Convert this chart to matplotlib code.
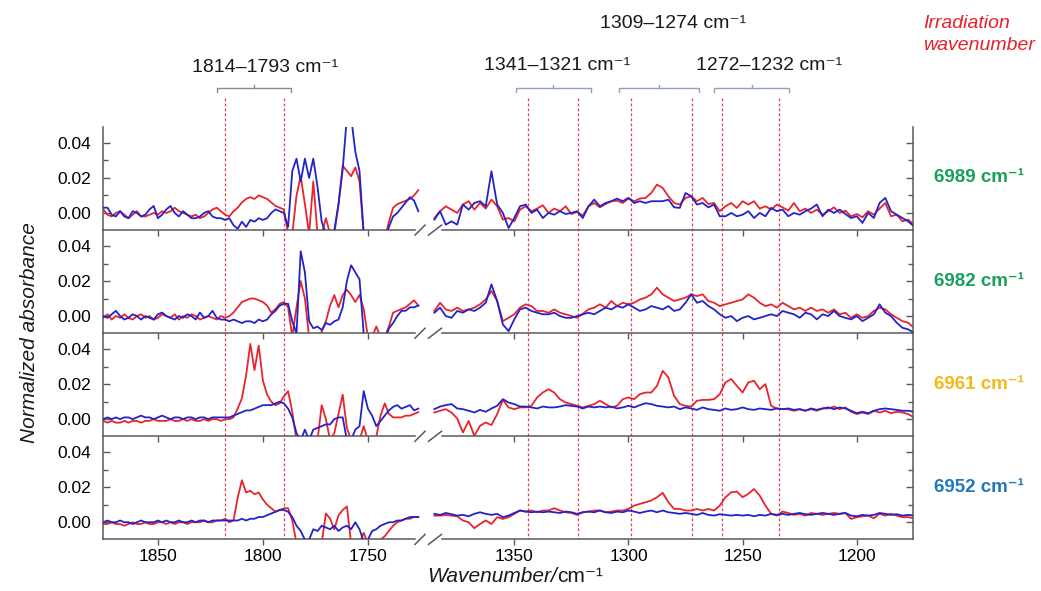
import numpy as np
import matplotlib
matplotlib.use("Agg")
import matplotlib.pyplot as plt
from matplotlib.transforms import blended_transform_factory
from matplotlib.lines import Line2D

plt.rcParams['font.family'] = ['Liberation Sans', 'DejaVu Sans']

# ---------------- data (absorbance in units of 1e-3) ----------------
SCALE = 1e-3
wn_left = np.arange(1876, 1725, -2)        # 1876 ... 1726 (76 points)
wn_right = np.arange(1385, 1174, -2.5)     # 1385 ... 1175 (85 points)

p1_red_left = [2, -1, -2, 0, 1, -1, -3, -1, 1, -2, -2, -1, 0, -1, 1, 0, 1, 3, 1, 0, -1, -2, -1, -3, -2, 0, 2, 3, 1,
               -1, -2, 1, 3, 6, 8, 9, 8, 10, 9, 8, 6, 4, 3, 2, -12, -12, 10, 21, 5, -12, 18, -12, -12, -3, -12, -12,
               5, 27, 24, 21, 26, 18, -12, -15, -15, -15, -15, -15, -5, 3, 5, 6, 7, 8, 10, 13]
p1_blue_left = [3, 3, -1, -2, 1, -2, -3, 1, 0, -2, -1, 2, 4, -3, -1, 2, 4, 0, -2, 1, -1, -3, -3, -2, 0, 1, -2, -3, -3,
                -4, -3, -7, -9, -5, -8, -4, -5, -3, -4, -3, 0, 2, 1, 0, -8, 24, 31, 18, 31, 20, 31, 15, -5, -12, -12,
                -10, 5, 25, 55, 55, 35, 24, -12, -15, -15, -15, -15, -15, -8, -2, 0, 3, 6, 9, 7, 1]
p2_red_left = [-1, 1, -2, 0, -1, 1, -1, -2, 0, 1, -1, 0, -2, -1, 1, 0, -1, 1, -2, 0, -1, 1, 0, -2, -1, 0, -1, -2, 0,
               -1, 0, 2, 5, 8, 9, 10, 10, 9, 8, 6, 2, 4, 7, 8, 5, -12, 5, 20, 10, -12, -12, -12, -9, -3, 6, 12, 5,
               12, 15, 12, 8, 12, 4, -12, -12, -6, -12, -12, -6, 2, 3, 4, 5, 7, 9, 6]
p2_blue_left = [0, -1, 1, 3, 0, -2, -1, 1, 0, -2, 0, -1, -2, 1, 2, 0, -1, -2, 0, -1, 1, 0, -2, 2, -1, 0, 3, -1, -2,
                -2, -3, -2, -3, -4, -3, -3, -4, -2, -3, -2, 1, 3, 6, 7, 7, -3, -10, 37, 25, -3, -7, -6, -8, -4, -5,
                -3, -2, 5, 20, 29, 25, 21, -10, -15, -15, -15, -15, -15, -7, -4, 0, 3, 3, 5, 5, 6]
p3_red_left = [-1, -2, -1, -2, -2, -1, -2, -1, -1, -2, -1, -1, 0, -1, -1, -1, 0, -1, -1, 0, -1, 0, -1, -1, 0, -1, 0,
               0, -1, 0, 0, 1, 6, 12, 25, 43, 28, 42, 22, 14, 10, 8, 9, 13, 16, 4, -12, -12, -12, -12, -12, -12, 8,
               0, -12, -8, 3, 14, -5, -12, -12, -12, -4, -12, -12, -10, 2, 9, 3, 1, 1, 1, 2, 2, 3, 4]
p3_blue_left = [0, 1, 0, 1, 0, 1, 1, 0, 1, 2, 1, 1, 0, 1, 2, 1, 0, 1, 1, 0, 1, 1, 0, 1, 1, 0, 1, 1, 1,
                1, 1, 2, 3, 4, 5, 5, 6, 7, 8, 8, 8, 9, 10, 9, 6, 1, -8, -12, -6, -12, -6, -5, -4, -3, -3, 0, 1, 1,
                -12, -12, -6, -4, 16, 6, 2, -4, -1, 2, 5, 7, 8, 6, 7, 8, 5, 6]
p4_red_left = [-1, -1, 0, -1, -1, -2, -1, 0, -1, -1, 0, -1, -1, 0, 0, -1, 0, -1, 0, 0, -1, 0, 0, 0, 1, 0, 0, 1, 1,
               2, 0, 1, 14, 24, 17, 18, 16, 17, 13, 10, 8, 6, 7, 8, 8, 1, -12, -12, -12, -12, -12, -12, -12, 5, 2,
               -4, 4, 7, 9, -12, -12, -12, -6, -12, -12, -12, -10, -8, -5, -2, 0, 1, 2, 2, 3, 3]
p4_blue_left = [0, 1, 0, 0, 1, 0, 0, -1, 0, 1, 0, 0, 0, 1, 0, 1, 0, 0, 1, 0, 0, 1, 0, 1, 1, 0, 1, 1, 1,
                1, 1, 1, 1, 2, 1, 2, 2, 3, 3, 4, 5, 6, 7, 7, 6, 3, -2, -5, -10, -10, -4, -5, -2, -3, -4, -2, -5, -3,
                -2, -4, 0, -4, -11, -10, -5, -4, -2, -1, 0, 0, 1, 1, 2, 3, 3, 3]

p1_red_right = [-2.9, 1.0, 3.8, 1.9, 0.0, 4.8, 6.7, 1.9, 5.7, 2.5, 7.6, 3.8, -3.8, -2.9, -4.8, 1.9, 3.8, 1.0, 2.5, 4.4,
                0.0, 2.5, 1.0, 3.8, -0.6, 0.6, -1.5, 3.8, 5.7, 3.2, 5.1, 6.7, 7.0, 5.7, 8.2, 6.7, 8.2, 8.6, 11.4, 16.2,
                14.3, 9.5, 5.7, 4.8, 8.6, 9.5, 6.7, 8.6, 5.1, 5.7, 1.0, 3.8, 5.7, 2.9, 6.7, 4.8, 6.7, 2.5, 3.8, 1.9,
                4.8, 3.2, 1.3, 5.7, 1.0, 2.5, 0.0, 1.9, -1.0, 1.0, 3.2, 0.0, 1.3, -1.9, -0.6, -2.5, 1.0, -1.0, 2.5, 5.7,
                -1.9, -1.0, -4.8, -3.8, -6.7]
p1_blue_right = [-3.8, 1.0, -6.7, -4.8, -6.7, 4.8, 1.9, 5.7, 6.7, 3.8, 23.8, 4.8, 0.0, -8.6, -2.9, 3.8, 4.8, 0.0, 1.9, -2.9,
                 0.0, -1.0, 1.0, -0.6, 0.0, 1.0, -2.9, 3.8, 7.6, 3.8, 5.7, 6.7, 8.2, 6.7, 8.6, 5.7, 6.7, 5.7, 6.7, 6.7,
                 6.7, 7.6, 3.2, 2.9, 11.4, 9.5, 4.8, 5.7, 3.2, 4.8, -1.9, -1.9, 0.0, -1.9, -1.0, 1.0, -2.9, 0.0, -1.9, 2.9,
                 1.0, 1.9, -1.9, 0.0, -1.0, 1.0, 2.5, 4.8, -1.9, 1.9, 0.0, 1.9, -0.6, -2.9, -1.9, -5.7, 0.0, -2.9, 5.7, 8.6,
                 1.0, -1.0, -2.9, -4.8, -7.6]
p2_red_right = [2.9, 7.6, 3.8, 2.9, 4.8, 2.9, 3.8, 4.8, 6.7, 9.5, 14.3, 8.6, -2.9, -1.0, 1.0, 4.8, 6.7, 5.7, 2.9, 2.9,
                1.9, 3.8, 1.9, 1.0, 0.0, -1.0, 1.3, 3.8, 4.8, 6.7, 4.8, 8.6, 5.7, 7.6, 6.7, 7.6, 9.5, 10.5, 12.4, 16.2,
                12.4, 10.5, 8.6, 9.5, 10.5, 12.4, 11.4, 12.4, 8.6, 7.6, 5.7, 6.7, 7.6, 8.6, 9.5, 12.4, 10.5, 7.6, 5.7, 6.7,
                4.8, 7.6, 5.7, 3.8, 4.8, 2.9, 4.8, 2.9, 3.8, 1.9, 3.8, 1.0, 1.9, -1.0, 1.0, -1.0, 0.0, 2.9, 4.8, 3.8,
                1.0, -1.0, -2.9, -3.8, -6.7]
p2_blue_right = [1.9, 4.8, 0.0, -1.0, 2.9, 1.9, 3.8, 2.9, 4.8, 7.6, 18.1, 8.6, -4.8, -8.6, -1.9, 3.8, 4.8, 2.9, 1.9, 1.0,
                 1.0, 1.9, 0.0, -1.0, -1.0, 0.0, 1.0, 1.9, 1.0, 2.9, 4.8, 3.8, 5.7, 4.8, 6.7, 4.8, 2.9, 3.8, 5.7, 4.8,
                 3.8, 5.7, 2.9, 3.8, 7.6, 12.4, 7.6, 8.6, 5.7, 3.8, 1.0, -1.0, 0.0, -2.9, -1.0, 0.0, -1.9, -1.0, 0.0, 1.0,
                 0.0, 2.9, 1.9, 1.0, -1.0, 1.9, 1.0, -1.9, 1.0, 0.0, 2.9, 0.0, -1.0, -1.9, 0.0, -2.9, -1.0, 1.0, 6.7, 1.9,
                 0.0, -3.8, -6.7, -7.6, -9.5]
p3_red_right = [3.8, 4.8, 5.7, 3.8, 0.4, -7.6, -1.0, -9.5, -3.8, -1.9, -3.4, 2.9, 11.0, 6.7, 5.7, 6.7, 6.7, 7.6, 12.4, 15.2,
                17.1, 15.2, 11.4, 9.5, 8.6, 7.6, 6.7, 7.6, 8.6, 10.5, 8.6, 6.7, 7.6, 11.4, 12.4, 11.4, 14.3, 15.2, 15.2, 19.0,
                27.6, 23.8, 13.3, 8.6, 7.6, 7.2, 10.5, 11.0, 11.0, 11.4, 14.3, 21.0, 22.9, 19.0, 15.2, 21.0, 21.9, 17.1, 20.0, 7.6,
                6.1, 5.7, 5.7, 4.8, 5.7, 4.8, 5.7, 4.8, 6.1, 6.1, 7.2, 5.7, 6.7, 4.2, 2.9, 3.8, 2.9, 4.8, 3.8, 4.8,
                3.4, 4.2, 3.8, 2.9, 1.0]
p3_blue_right = [5.7, 7.2, 8.0, 8.6, 6.1, 5.7, 4.8, 3.8, 5.3, 4.2, 6.1, 7.6, 11.4, 9.5, 8.6, 7.2, 7.2, 6.7, 6.1, 7.2,
                 6.7, 6.7, 7.2, 8.0, 7.6, 7.2, 6.1, 7.2, 6.7, 7.2, 6.7, 7.2, 6.1, 6.7, 7.6, 6.7, 8.0, 9.1, 8.6, 7.6,
                 7.2, 6.7, 7.2, 5.7, 6.7, 6.1, 5.3, 6.7, 5.7, 5.3, 4.8, 6.1, 5.3, 5.7, 6.7, 5.7, 5.3, 6.1, 5.7, 5.3,
                 6.1, 5.7, 6.1, 5.3, 5.7, 4.8, 6.1, 5.3, 6.1, 6.7, 5.7, 6.7, 6.1, 4.8, 3.4, 4.2, 3.4, 4.8, 5.7, 6.1,
                 5.7, 5.3, 4.8, 4.8, 4.2]
p4_red_right = [3.8, 3.8, 4.2, 3.8, 3.4, 1.0, 0.0, -3.4, -1.0, 1.0, -1.0, 2.9, 1.9, 2.9, 4.8, 6.7, 6.1, 6.7, 5.7, 6.7,
                6.7, 8.0, 6.7, 5.7, 5.3, 4.2, 5.7, 6.1, 6.7, 6.7, 5.7, 6.1, 6.7, 6.7, 7.6, 9.5, 10.5, 11.4, 12.4, 14.3,
                16.8, 11.4, 7.6, 7.6, 6.7, 6.7, 7.6, 6.7, 7.6, 6.7, 9.5, 14.3, 17.1, 17.5, 14.3, 16.2, 19.0, 15.2, 9.5, 4.8,
                3.8, 6.1, 5.3, 4.2, 4.8, 3.8, 5.3, 4.8, 4.2, 4.8, 5.3, 4.8, 5.3, 1.9, 2.9, 3.4, 3.8, 2.3, 4.8, 3.8,
                4.8, 3.8, 2.9, 2.9, 2.3]
p4_blue_right = [4.8, 4.2, 5.3, 4.6, 3.8, 4.2, 3.4, 4.8, 5.7, 4.8, 4.2, 4.8, 2.9, 3.8, 5.3, 6.7, 6.1, 5.7, 6.1, 5.7,
                 6.1, 5.7, 5.3, 6.1, 5.7, 4.8, 5.7, 6.1, 5.7, 6.7, 5.7, 5.3, 6.1, 5.7, 6.7, 6.1, 5.3, 6.1, 6.7, 5.7,
                 6.7, 5.7, 5.3, 4.8, 5.3, 4.8, 4.2, 5.3, 4.2, 3.8, 4.6, 4.2, 3.8, 4.2, 3.8, 4.2, 3.4, 4.2, 3.8, 4.8,
                 4.2, 4.8, 4.2, 4.8, 5.3, 4.6, 4.2, 4.8, 5.3, 4.8, 4.2, 4.8, 5.3, 3.8, 3.4, 4.2, 3.8, 4.2, 5.3, 4.8,
                 4.2, 4.6, 3.8, 4.2, 3.8]

red_left = [p1_red_left, p2_red_left, p3_red_left, p4_red_left]
blue_left = [p1_blue_left, p2_blue_left, p3_blue_left, p4_blue_left]
red_right = [p1_red_right, p2_red_right, p3_red_right, p4_red_right]
blue_right = [p1_blue_right, p2_blue_right, p3_blue_right, p4_blue_right]

panel_labels = ['6989 cm⁻¹', '6982 cm⁻¹', '6961 cm⁻¹', '6952 cm⁻¹']
panel_label_colors = ['#17a05a', '#17a05a', '#f4b914', '#1f78bd']
irradiation_lines = [1818, 1790, 1344, 1322, 1299, 1272, 1259, 1234]
bracket_ranges = [(1821.7, 1786.8), (1349.3, 1316.5), (1304.0, 1269.0), (1262.5, 1229.5)]
bracket_labels = ['1814–1793 cm⁻¹', '1341–1321 cm⁻¹', '1309–1274 cm⁻¹', '1272–1232 cm⁻¹']
left_ticks = [1850, 1800, 1750]
right_ticks = [1350, 1300, 1250, 1200]
y_major = [0.0, 0.02, 0.04]
y_minor = [0.01, 0.03]

# ---------------- layout ----------------
W, H = 1041, 591
def fx(px):
    return px / W
def fy(py):
    return 1 - py / H

PANEL_TOP, PANEL_H = 127.0, 103.1
LX0, LX1 = 103.3, 420.4
RX0, RX1 = 433.0, 912.7
LEFT_LIM = (1876, 1725)
RIGHT_LIM = (1385.6, 1175.5)
YLIM = (-0.0098, 0.0491)

RED = '#e8242c'
BLUE = '#2323c8'
AXC = '#5a5a5a'

fig = plt.figure(figsize=(W / 100, H / 100), dpi=100)
fig.patch.set_facecolor('white')

axes_l, axes_r = [], []
for k in range(4):
    top = PANEL_TOP + k * PANEL_H
    bot = top + PANEL_H
    al = fig.add_axes([fx(LX0), fy(bot), (LX1 - LX0) / W, PANEL_H / H])
    ar = fig.add_axes([fx(RX0), fy(bot), (RX1 - RX0) / W, PANEL_H / H])
    for ax, xl, wn, rd, bl, ticks in ((al, LEFT_LIM, wn_left, red_left[k], blue_left[k], left_ticks),
                                      (ar, RIGHT_LIM, wn_right, red_right[k], blue_right[k], right_ticks)):
        ax.patch.set_visible(False)
        ax.plot(wn, np.array(rd) * SCALE, color=RED, lw=1.3, zorder=2)
        ax.plot(wn, np.array(bl) * SCALE, color=BLUE, lw=1.3, zorder=3)
        ax.set_xlim(*xl)
        ax.set_ylim(*YLIM)
        ax.set_xticks(ticks)
        ax.set_yticks(y_major)
        ax.set_yticks(y_minor, minor=True)
        ax.spines['top'].set_visible(False)
        for s in ax.spines.values():
            s.set_color(AXC)
            s.set_linewidth(1.1)
        ax.tick_params(axis='x', direction='out', length=4, width=1, color=AXC,
                       labelbottom=(k == 3), labelsize=12.5, pad=3)
        ax.tick_params(axis='y', which='both', direction='in', color=AXC, width=1)
        ax.tick_params(axis='y', which='major', length=5)
        ax.tick_params(axis='y', which='minor', length=3.5)
    al.spines['right'].set_visible(False)
    al.spines['bottom'].set_bounds(1876, 1727.6)
    al.set_yticklabels(['0.00', '0.02', '0.04'])
    al.tick_params(axis='y', labelsize=12.5, pad=9)
    ar.spines['left'].set_visible(False)
    ar.spines['bottom'].set_bounds(1381.7, 1175.5)
    ar.yaxis.tick_right()
    ar.tick_params(axis='y', which='both', labelright=False)
    axes_l.append(al)
    axes_r.append(ar)

    # break marks on each panel's bottom line
    for (x0, x1) in ((415.0, 425.0), (428.5, 441.5)):
        fig.add_artist(Line2D([fx(x0), fx(x1)], [fy(bot + 5), fy(bot - 5)],
                              transform=fig.transFigure, color=AXC, lw=1.1))

    # panel label on the right, at the 0.02 level
    tr = blended_transform_factory(fig.transFigure, ar.transData)
    fig.text(fx(934), 0.02, panel_labels[k], transform=tr, ha='left', va='center',
             fontsize=13.5, fontweight='bold', color=panel_label_colors[k])

# dashed irradiation lines spanning all panels
for wn in irradiation_lines:
    ax = axes_l[0] if wn > 1500 else axes_r[0]
    tr = blended_transform_factory(ax.transData, fig.transFigure)
    ax.add_line(Line2D([wn, wn], [fy(98), fy(PANEL_TOP + 4 * PANEL_H)], transform=tr,
                       color='#e0404c', lw=0.9, ls=(0, (2.2, 1.8)), clip_on=False, zorder=0.5))

# brackets
for i, (a, b) in enumerate(bracket_ranges):
    ax = axes_l[0] if a > 1500 else axes_r[0]
    tr = blended_transform_factory(ax.transData, fig.transFigure)
    col = '#8a8a8a' if a > 1500 else '#8ea2b8'
    ax.add_line(Line2D([a, a, b, b], [fy(92), fy(88.5), fy(88.5), fy(92)], transform=tr,
                       color=col, lw=1.0, clip_on=False))
    c = (a + b) / 2
    ax.add_line(Line2D([c, c], [fy(88.5), fy(85)], transform=tr, color=col, lw=1.0, clip_on=False))

label_pos = [(265, 68), (557.5, 66), (672.5, 24), (769, 66)]
for lab, (px, py) in zip(bracket_labels, label_pos):
    fig.text(fx(px), fy(py), lab, ha='center', va='center', fontsize=14, color='#1a1a1a')

fig.text(fx(923), fy(23), 'Irradiation', ha='left', va='center', fontsize=14,
         style='italic', color='#e8202a')
fig.text(fx(923), fy(46), 'wavenumber', ha='left', va='center', fontsize=14,
         style='italic', color='#e8202a')

# axis labels
fig.text(fx(30), fy(333), 'Normalized absorbance', rotation=90, ha='center', va='center',
         fontsize=15, style='italic', color='#1a1a1a')
fig.text(fx(557), fy(577), 'Wavenumber/', ha='right', va='center', fontsize=15,
         style='italic', color='#1a1a1a')
fig.text(fx(557), fy(577), 'cm⁻¹', ha='left', va='center', fontsize=15, color='#1a1a1a')

fig.savefig('out.png', dpi=100, facecolor='white')
